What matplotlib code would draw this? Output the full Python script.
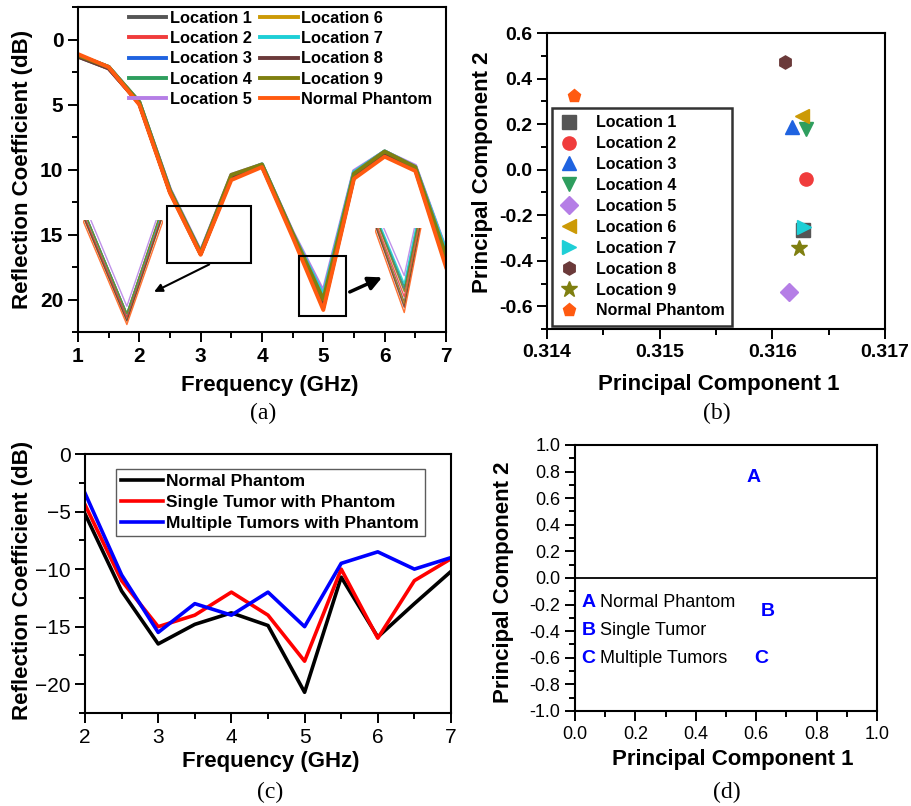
import matplotlib
matplotlib.use("Agg")
import matplotlib.pyplot as plt
from matplotlib.patches import Rectangle
from matplotlib.ticker import MultipleLocator

plt.rcParams['font.family'] = ['Liberation Sans', 'DejaVu Sans']

# ---- (a) reflection coefficient, 9 tumour locations + normal phantom ----
freq_a = [1, 1.5, 2, 2.5, 3, 3.5, 4, 4.5, 5, 5.5, 6, 6.5, 7]
loc_names = ['Location 1', 'Location 2', 'Location 3', 'Location 4', 'Location 5',
             'Location 6', 'Location 7', 'Location 8', 'Location 9', 'Normal Phantom']
loc_1 = [1.3, 2.2, 4.9, 11.7, 16.45, 10.6, 9.7, 15.0, 20.4, 10.5, 8.8, 9.9, 16.9]
loc_2 = [1.2, 2.2, 4.9, 11.7, 16.45, 10.6, 9.7, 15.0, 20.2, 10.4, 8.8, 9.9, 16.8]
loc_3 = [1.2, 2.1, 4.9, 11.6, 16.4, 10.5, 9.7, 14.9, 19.9, 10.3, 8.7, 9.8, 16.5]
loc_4 = [1.2, 2.1, 4.8, 11.6, 16.4, 10.5, 9.6, 14.9, 19.8, 10.2, 8.6, 9.8, 16.3]
loc_5 = [1.2, 2.1, 4.8, 11.5, 16.3, 10.4, 9.6, 14.8, 19.4, 10.1, 8.6, 9.7, 16.2]
loc_6 = [1.2, 2.1, 4.9, 11.7, 16.5, 10.6, 9.7, 15.0, 20.5, 10.5, 8.8, 9.9, 17.0]
loc_7 = [1.2, 2.1, 4.8, 11.6, 16.4, 10.5, 9.6, 14.9, 19.7, 10.2, 8.6, 9.8, 16.3]
loc_8 = [1.3, 2.2, 4.9, 11.7, 16.5, 10.6, 9.7, 15.0, 20.6, 10.6, 8.9, 10.0, 17.2]
loc_9 = [1.2, 2.1, 4.8, 11.6, 16.4, 10.4, 9.6, 14.9, 20.0, 10.3, 8.6, 9.8, 16.6]
normal_a = [1.1, 2.1, 5.0, 11.8, 16.55, 10.8, 9.8, 15.2, 20.8, 10.7, 9.0, 10.1, 17.5]
series_a = [loc_1, loc_2, loc_3, loc_4, loc_5, loc_6, loc_7, loc_8, loc_9, normal_a]

colors = ['#555555', '#f03c3c', '#1f63e0', '#2e9e5e', '#b57ee6',
          '#cc9a06', '#1ecfd6', '#6b3a3a', '#7f7f10', '#ff5a10']

# ---- (b) PCA of the 9 locations ----
pc1_b = [0.316268, 0.316295, 0.316177, 0.316295, 0.316144,
         0.316260, 0.316283, 0.316112, 0.316233, 0.314237]
pc2_b = [-0.267, -0.039, 0.186, 0.180, -0.538, 0.236, -0.252, 0.472, -0.345, 0.324]
markers_b = ['s', 'o', '^', 'v', 'D', '<', '>', 'h', '*', 'p']

# ---- (c) normal / single / multiple tumours ----
freq_c = [2, 2.5, 3, 3.5, 4, 4.5, 5, 5.5, 6, 6.5, 7]
normal_c = [-5.2, -11.9, -16.5, -14.8, -13.8, -14.9, -20.7, -10.7, -15.9, -13.0, -10.2]
single_c = [-4.4, -11.0, -15.0, -14.0, -12.0, -14.0, -18.0, -10.0, -16.0, -11.0, -9.1]
multi_c = [-3.4, -10.5, -15.5, -13.0, -14.0, -12.0, -15.0, -9.5, -8.5, -10.0, -9.0]
names_c = ['Normal Phantom', 'Single Tumor with Phantom', 'Multiple Tumors with Phantom']

# ---- (d) PCA of the three cases ----
letters_d = ['A', 'B', 'C']
names_d = ['Normal Phantom', 'Single Tumor', 'Multiple Tumors']
pc1_d = [0.59, 0.64, 0.617]
pc2_d = [0.754, -0.253, -0.604]

fig = plt.figure(figsize=(9.12, 8.06), dpi=100)


def style_axes(ax, tick_size, bold):
    for s in ax.spines.values():
        s.set_linewidth(1.5)
    ax.tick_params(which='both', direction='out', width=1.4, labelsize=tick_size)
    ax.tick_params(which='major', length=7)
    ax.tick_params(which='minor', length=4)
    if bold:
        for lab in ax.get_xticklabels() + ax.get_yticklabels():
            lab.set_fontweight('bold')


def place_labels(ax, xl, yl, xpos, ypos):
    ax.set_xlabel(xl, fontsize=16, fontweight='bold')
    ax.set_ylabel(yl, fontsize=16, fontweight='bold')
    ax.xaxis.set_label_coords(*xpos)
    ax.yaxis.set_label_coords(*ypos)
    ax.xaxis.label.set_va('center')
    ax.yaxis.label.set_va('center')


# ================= (a) =================
ax = fig.add_axes([0.0855, 0.588, 0.4035, 0.403])
for ys, c, n in zip(series_a, colors, loc_names):
    ax.plot(freq_a, ys, color=c, lw=2.8, label=n)
ax.set_xlim(1, 7)
ax.set_ylim(22.5, -2.5)
ax.xaxis.set_major_locator(MultipleLocator(1))
ax.xaxis.set_minor_locator(MultipleLocator(0.5))
ax.yaxis.set_major_locator(MultipleLocator(5))
ax.yaxis.set_minor_locator(MultipleLocator(2.5))
style_axes(ax, 15, True)
place_labels(ax, 'Frequency (GHz)', 'Reflection Coefficient (dB)', (0.52, -0.163), (-0.152, 0.5))
ax.legend(loc='upper right', bbox_to_anchor=(0.98, 1.01), ncol=2, frameon=False,
          prop={'weight': 'bold', 'size': 11.8}, handlelength=2.3, handletextpad=0.2,
          columnspacing=0.5, labelspacing=0.33, borderaxespad=0)

ax.add_patch(Rectangle((2.45, 12.8), 1.37, 4.4, fill=False, lw=1.5, ec='black', zorder=5))
ax.add_patch(Rectangle((4.6, 16.65), 0.77, 4.65, fill=False, lw=1.5, ec='black', zorder=5))
ax.annotate('', xy=(2.2, 19.5), xytext=(3.18, 17.2),
            arrowprops=dict(arrowstyle='-|>', color='black', lw=1.5, mutation_scale=12))
ax.annotate('', xy=(6.0, 18.2), xytext=(5.39, 19.5),
            arrowprops=dict(arrowstyle='-|>', color='black', lw=2.5, mutation_scale=20))

# zoomed views of the two dips
ins1 = ax.inset_axes([0.0136, 0.012, 0.217, 0.332])
ins2 = ax.inset_axes([0.807, 0.052, 0.128, 0.268])
for ins, xl, yl in [(ins1, (2.85, 3.123), (16.6, 15.12)), (ins2, (4.72, 5.17), (20.9, 17.6))]:
    for ys, c in zip(series_a, colors):
        ins.plot(freq_a, ys, color=c, lw=1.0, alpha=0.85)
    ins.set_xlim(*xl)
    ins.set_ylim(*yl)
    ins.axis('off')

fig.text(263 / 912, 1 - 413 / 806, '(a)', fontsize=17, family='Liberation Serif',
         ha='center', va='center')

# ================= (b) =================
ax = fig.add_axes([0.5998, 0.5918, 0.3706, 0.367])
for x, y, m, c, n in zip(pc1_b, pc2_b, markers_b, colors, loc_names):
    ms = 12 if m == '*' else 9.5
    ax.plot([x], [y], ls='none', marker=m, color=c, ms=ms, mec=c, label=n)
ax.set_xlim(0.314, 0.317)
ax.set_ylim(-0.7, 0.6)
ax.xaxis.set_major_locator(MultipleLocator(0.001))
ax.xaxis.set_minor_locator(MultipleLocator(0.0005))
ax.yaxis.set_major_locator(MultipleLocator(0.2))
ax.yaxis.set_minor_locator(MultipleLocator(0.1))
ax.xaxis.set_major_formatter(matplotlib.ticker.FormatStrFormatter('%.3f'))
ax.yaxis.set_major_formatter(matplotlib.ticker.FormatStrFormatter('%.1f'))
style_axes(ax, 14, True)
place_labels(ax, 'Principal Component 1', 'Principal Component 2', (0.509, -0.189), (-0.192, 0.53))
leg = ax.legend(loc='upper left', bbox_to_anchor=(0.015, 0.747), borderaxespad=0,
                prop={'weight': 'bold', 'size': 11.5}, fancybox=False, edgecolor='black',
                handletextpad=1.1, labelspacing=0.37, borderpad=0.45, handlelength=1.2)
leg.get_frame().set_linewidth(1.8)

fig.text(717 / 912, 1 - 413 / 806, '(b)', fontsize=17, family='Liberation Serif',
         ha='center', va='center')

# ================= (c) =================
ax = fig.add_axes([0.0932, 0.1154, 0.4013, 0.3213])
for ys, c, n in zip([normal_c, single_c, multi_c], ['black', '#ff0000', '#0000ff'], names_c):
    ax.plot(freq_c, ys, color=c, lw=2.6, label=n)
ax.set_xlim(2, 7)
ax.set_ylim(-22.5, 0)
ax.xaxis.set_major_locator(MultipleLocator(1))
ax.xaxis.set_minor_locator(MultipleLocator(0.5))
ax.yaxis.set_major_locator(MultipleLocator(5))
ax.yaxis.set_minor_locator(MultipleLocator(2.5))
style_axes(ax, 15, False)
place_labels(ax, 'Frequency (GHz)', 'Reflection Coefficient (dB)', (0.508, -0.189), (-0.172, 0.51))
leg = ax.legend(loc='upper left', bbox_to_anchor=(0.085, 0.942), borderaxespad=0,
                prop={'weight': 'bold', 'size': 12.5}, fancybox=False, edgecolor='#333333',
                handlelength=2.4, handletextpad=0.2, labelspacing=0.33, borderpad=0.3)
leg.get_frame().set_linewidth(1.0)

fig.text(270 / 912, 1 - 792 / 806, '(c)', fontsize=17, family='Liberation Serif',
         ha='center', va='center')

# ================= (d) =================
ax = fig.add_axes([0.6305, 0.1179, 0.331, 0.33])
ax.axhline(0, color='black', lw=1.3)
for x, y, t in zip(pc1_d, pc2_d, letters_d):
    ax.text(x, y, t, color='#0000ff', fontsize=14, fontweight='bold', ha='center', va='center')
for i, (t, n) in enumerate(zip(letters_d, names_d)):
    yy = -0.185 - 0.211 * i
    ax.text(0.022, yy, t, color='#0000ff', fontsize=14, fontweight='bold', ha='left', va='center')
    ax.text(0.083, yy, n, color='black', fontsize=13, ha='left', va='center')
ax.set_xlim(0, 1)
ax.set_ylim(-1, 1)
ax.xaxis.set_major_locator(MultipleLocator(0.2))
ax.xaxis.set_minor_locator(MultipleLocator(0.1))
ax.yaxis.set_major_locator(MultipleLocator(0.2))
ax.yaxis.set_minor_locator(MultipleLocator(0.1))
ax.xaxis.set_major_formatter(matplotlib.ticker.FormatStrFormatter('%.1f'))
ax.yaxis.set_major_formatter(matplotlib.ticker.FormatStrFormatter('%.1f'))
style_axes(ax, 13, False)
place_labels(ax, 'Principal Component 1', 'Principal Component 2', (0.523, -0.184), (-0.238, 0.485))

fig.text(727 / 912, 1 - 792 / 806, '(d)', fontsize=17, family='Liberation Serif',
         ha='center', va='center')

fig.savefig('out.png', dpi=100)
